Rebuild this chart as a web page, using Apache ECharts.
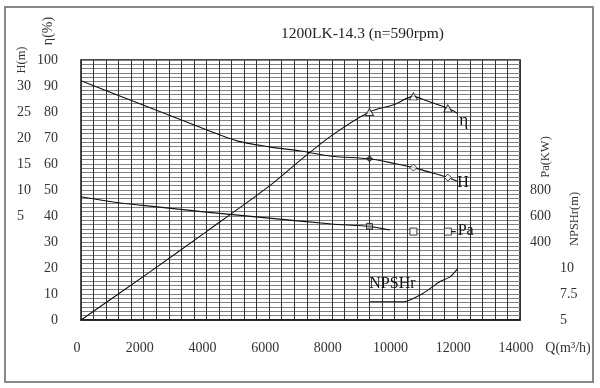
<!DOCTYPE html>
<html><head><meta charset="utf-8">
<script src="https://cdn.jsdelivr.net/npm/echarts@6/dist/echarts.min.js"></script>
<style>html,body{margin:0;padding:0;background:#fff}#c{width:600px;height:388px}</style>
</head><body><div id="c"></div>
<script>
// ---- data ----
const titleText = '1200LK-14.3 (n=590rpm)';
const qHead = [0, 2000, 4000, 5000, 6000, 7000, 8000, 9200, 10000, 10600, 11200, 11700, 12000];
const headVals = [31.0, 26.3, 21.6, 19.4, 18.3, 17.5, 16.5, 16.0, 15.1, 14.3, 13.3, 12.4, 11.7];
const qEff = [0, 2200, 4000, 6000, 7000, 8000, 9200, 10000, 10600, 11000, 11700, 12000];
const effVals = [0, 18.5, 34, 51.5, 61.5, 71, 80, 82.9, 86.0, 84.4, 81.4, 79.5];
const qPower = [0, 1200, 2200, 4000, 6000, 8000, 9200, 9850];
const powerVals = [748, 702, 676, 630, 584, 538, 520, 492];
const qPowerTail = [11800, 11950];
const powerTail = [480, 480];
const qNpsh = [9200, 10300, 10900, 11450, 11770, 12000];
const npshVals = [6.75, 6.75, 7.55, 8.7, 9.15, 9.9];
const qMarks = [9200, 10600, 11700];
const effMarks = [80, 86.0, 81.4];
const headMarks = [16.0, 14.3, 12.4];
const powerMarks = [520, 480, 480];
const headLabels = [5, 10, 15, 20, 25, 30];
const powerLabels = [400, 600, 800];
const npshLabels = [5, 7.5, 10];

const zip = (a, b) => a.map((v, i) => [v, b[i]]);
const FONT = 'Liberation Serif, DejaVu Serif, Noto Sans CJK SC';
const LINE = {color: '#111', width: 1.1};
const lab = {fontFamily: FONT, fontSize: 14, color: '#333'};
const hollow = {color: '#fff', borderColor: '#111', borderWidth: 1};

const chart = echarts.init(document.getElementById('c'), null, {renderer: 'canvas'});
chart.setOption({
  animation: false,
  backgroundColor: '#fff',
  title: {text: titleText, left: 276, top: 21,
    textStyle: {fontFamily: FONT, fontSize: 15.5, fontWeight: 'normal', color: '#222'}},
  grid: {left: 81, top: 60, right: 80, bottom: 68, show: true, borderColor: '#111', borderWidth: 1.5,
    backgroundColor: '#fff', outerBoundsMode: 'none', containLabel: false},
  xAxis: {type: 'value', min: 0, max: 14000, interval: 2000,
    axisLine: {show: true, lineStyle: {color: '#111', width: 1.5}}, axisTick: {show: false},
    axisLabel: Object.assign({margin: 21, padding: [0, 8, 0, 0], formatter: v => String(v)}, lab),
    splitLine: {show: true, lineStyle: {color: '#333', width: 1}},
    minorTick: {show: false, splitNumber: 5},
    minorSplitLine: {show: true, lineStyle: {color: '#333', width: 1}}},
  yAxis: [
    {type: 'value', min: 0, max: 100, interval: 10, position: 'left',
      axisLine: {show: false}, axisTick: {show: false},
      axisLabel: Object.assign({margin: 23, align: 'right', padding: [8, 0, 0, 0]}, lab),
      splitLine: {show: true, lineStyle: {color: '#808080', width: 1}},
      minorTick: {show: false, splitNumber: 6},
      minorSplitLine: {show: true, lineStyle: {color: '#808080', width: 1}}},
    {type: 'value', min: -15, max: 35, interval: 5, position: 'left',
      axisLine: {show: false}, axisTick: {show: false}, splitLine: {show: false},
      axisLabel: Object.assign({margin: 64, align: 'left', padding: [8, 0, 0, 0],
        formatter: v => headLabels.includes(v) ? String(v) : ''}, lab)},
    {type: 'value', min: -200, max: 1800, interval: 200, position: 'right',
      axisLine: {show: false}, axisTick: {show: false}, splitLine: {show: false},
      axisLabel: Object.assign({margin: 10, align: 'left', padding: [8, 0, 0, 0],
        formatter: v => powerLabels.includes(v) ? String(v) : ''}, lab)},
    {type: 'value', min: 5, max: 30, interval: 2.5, position: 'right',
      axisLine: {show: false}, axisTick: {show: false}, splitLine: {show: false},
      axisLabel: Object.assign({margin: 40, align: 'left', padding: [6, 0, 0, 0],
        formatter: v => npshLabels.includes(v) ? String(v) : ''}, lab)}
  ],
  series: [
    {type: 'line', name: 'eff', yAxisIndex: 0, data: zip(qEff, effVals), symbol: 'none', smooth: 0.3,
      lineStyle: LINE, z: 3,
      endLabel: {show: true, formatter: 'η', distance: 0, offset: [2, 7], fontFamily: FONT, fontSize: 17, color: '#111'}},
    {type: 'line', name: 'head', yAxisIndex: 1, data: zip(qHead, headVals), symbol: 'none', smooth: 0.3,
      lineStyle: LINE, z: 3,
      endLabel: {show: true, formatter: 'H', distance: 0, offset: [0, 2], fontFamily: FONT, fontSize: 16, color: '#111'}},
    {type: 'line', name: 'power', yAxisIndex: 2, data: zip(qPower, powerVals), symbol: 'none', smooth: 0.2,
      lineStyle: LINE, z: 3},
    {type: 'line', name: 'powerTail', yAxisIndex: 2, data: zip(qPowerTail, powerTail), symbol: 'none',
      lineStyle: LINE, z: 3,
      endLabel: {show: true, formatter: 'Pa', distance: 2, offset: [0, -1], fontFamily: FONT, fontSize: 16, color: '#111'}},
    {type: 'line', name: 'npsh', yAxisIndex: 3, data: zip(qNpsh, npshVals), symbol: 'none', smooth: 0.2,
      lineStyle: LINE, z: 3,
      endLabel: {show: true, formatter: 'NPSHr', distance: 0, offset: [-88, 15], fontFamily: FONT, fontSize: 16, color: '#111'}},
    {type: 'scatter', yAxisIndex: 0, data: zip(qMarks, effMarks), symbol: 'triangle', symbolSize: [8, 7],
      itemStyle: hollow, z: 5},
    {type: 'scatter', yAxisIndex: 1, data: zip(qMarks, headMarks).map((p, i) => i === 0 ?
        {value: p, itemStyle: {color: '#333', borderColor: '#111', borderWidth: 1}, symbolSize: 6} : p),
      symbol: 'diamond', symbolSize: 7, itemStyle: hollow, z: 5},
    {type: 'scatter', yAxisIndex: 2, data: zip(qMarks, powerMarks).map((p, i) => i === 0 ?
        {value: p, itemStyle: {color: '#999', borderColor: '#111', borderWidth: 1}, symbolSize: 6} : p),
      symbol: 'rect', symbolSize: 7, itemStyle: hollow, z: 5}
  ],
  graphic: [
    {type: 'rect', shape: {x: 5, y: 7, width: 588, height: 375}, style: {fill: 'none', stroke: '#888', lineWidth: 2}, z: -1},
    {type: 'text', x: 22, y: 60, rotation: Math.PI / 2, style: {text: 'H(m)', fontFamily: FONT, fontSize: 12.5, fill: '#333', textAlign: 'center', textVerticalAlign: 'middle'}},
    {type: 'text', x: 48, y: 31, rotation: Math.PI / 2, style: {text: 'η(%)', fontFamily: FONT, fontSize: 14, fill: '#333', textAlign: 'center', textVerticalAlign: 'middle'}},
    {type: 'text', x: 546, y: 157, rotation: Math.PI / 2, style: {text: 'Pa(KW)', fontFamily: FONT, fontSize: 12.5, fill: '#333', textAlign: 'center', textVerticalAlign: 'middle'}},
    {type: 'text', x: 575, y: 219, rotation: Math.PI / 2, style: {text: 'NPSHr(m)', fontFamily: FONT, fontSize: 12.5, fill: '#333', textAlign: 'center', textVerticalAlign: 'middle'}},
    {type: 'text', x: 568, y: 348, style: {text: 'Q(m³/h)', fontFamily: FONT, fontSize: 14, fill: '#333', textAlign: 'center', textVerticalAlign: 'middle'}}
  ]
});
</script>
</body></html>
